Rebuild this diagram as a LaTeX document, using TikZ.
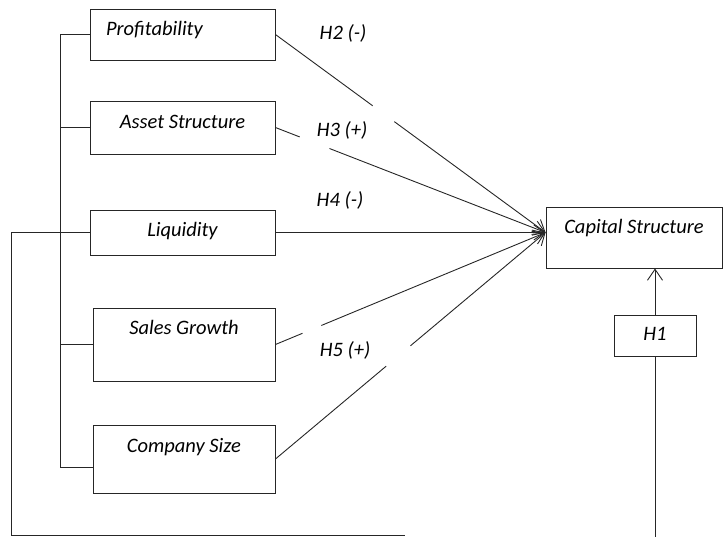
\documentclass[tikz,border=0pt]{standalone}
\usepackage{fontspec}
\setmainfont{Carlito}
\usetikzlibrary{arrows.meta,calc}

\tikzset{
  box/.style={draw=black!85,line width=.9pt,inner sep=2pt,text height=15pt},
  link/.style={draw=black!85,line width=.9pt},
  arr/.style={link,-{Straight Barb[length=11pt,width=15pt]}},
}

\begin{document}
\begin{tikzpicture}[x=1pt,y=-1pt,font=\itshape\fontsize{20.5}{24}\selectfont]
\useasboundingbox (0,0) rectangle (724,539);
% independent variables
\node[box,minimum width=185pt,minimum height=51pt,text depth=14pt,text width=153pt,align=left] (prof) at (182.5,34.5) {Profitability};
\node[box,minimum width=185pt,minimum height=53pt,text depth=14pt] (asset) at (182.5,127.5) {Asset Structure};
\node[box,minimum width=185pt,minimum height=45pt,text depth=7pt] (liq) at (182.5,232.5) {Liquidity};
\node[box,minimum width=182pt,minimum height=73pt,text depth=35pt] (sales) at (184,344.5) {Sales Growth};
\node[box,minimum width=182pt,minimum height=68pt,text depth=28pt] (size) at (184,459) {Company Size};
% dependent variable and H1
\node[box,minimum width=176pt,minimum height=61pt,text depth=24pt] (cap) at (634,237.5) {Capital Structure};
\node[box,minimum width=82pt,minimum height=41pt,text depth=5pt] (h1) at (655,335.5) {H1};
\coordinate (hub) at (cap.west |- liq.east);

% partial paths, broken where the labels sit
\foreach \n/\a/\b in {prof/.36/.44,asset/.09/.20,sales/.10/.17,size/.41/.50}{
  \draw[link] (\n.east) -- ($(\n.east)!\a!(hub)$);
  \draw[arr] ($(\n.east)!\b!(hub)$) -- (hub);}
\draw[arr] (liq.east) -- (hub);
\node (h2) at (343,33) {H2 (-)};
\node (h3) at (342,130) {H3 (+)};
\node (h4) at (340,200) {H4 (-)};
\node (h5) at (345,350) {H5 (+)};

% bracket joining the five variables
\draw[link] (prof.west) -- ++(-29,0) coordinate (top) |- ([yshift=-8pt]size.west);
\foreach \n in {asset,liq,sales}
  \draw[link] (\n.west) -- (\n.west -| top);

% simultaneous path (H1)
\draw[link] (liq.west -| top) -- ++(-49,0) |- (405,535) coordinate (loopend);
\draw[link] (h1.north |- h1.south) -- ++(0,181);
\draw[arr] (h1.north) -- (h1.north |- cap.south);
\end{tikzpicture}
\end{document}
